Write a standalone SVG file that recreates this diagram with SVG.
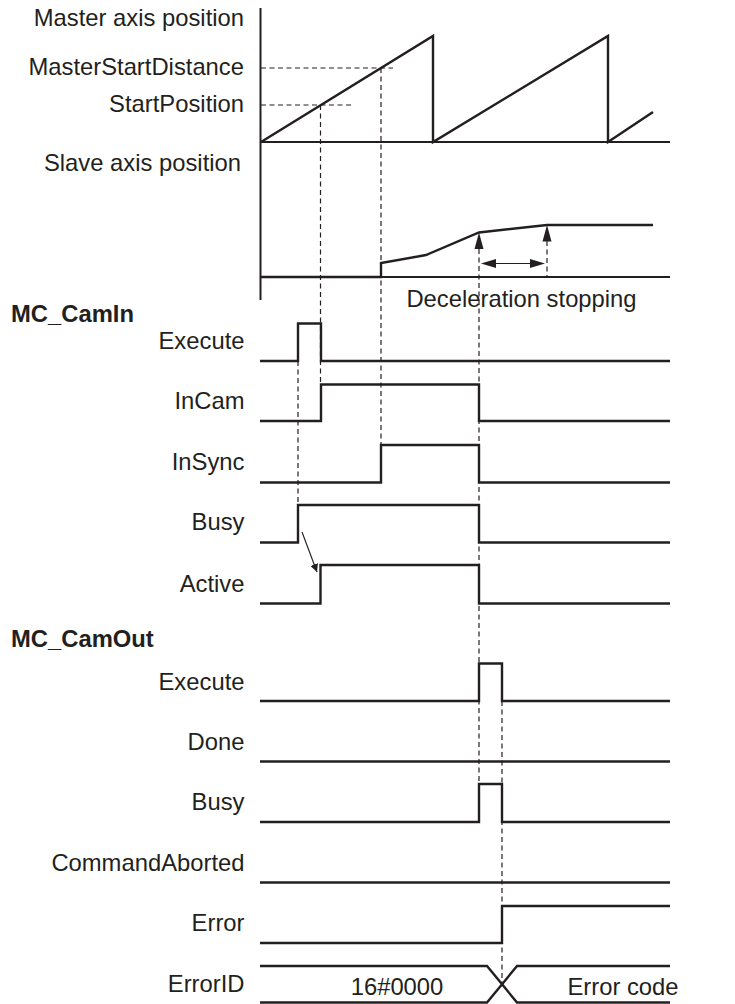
<svg xmlns="http://www.w3.org/2000/svg" width="735" height="1004" viewBox="0 0 735 1004">
<style>
text{font-family:"Liberation Sans",Arial,Helvetica,sans-serif;font-size:23.8px;fill:#231f20}
.lbl{text-anchor:end}
.b{font-weight:bold;text-anchor:start}
.sig{fill:none;stroke:#231f20;stroke-width:2.4;stroke-linejoin:miter}
.ax{fill:none;stroke:#231f20;stroke-width:2}
.dash{fill:none;stroke:#231f20;stroke-width:1.2;stroke-dasharray:5 3.5}
.thin{fill:none;stroke:#231f20;stroke-width:1.2}
.head{fill:#231f20}
</style>
<defs>
<marker id="ah" viewBox="0 0 10 10" refX="10" refY="5" markerWidth="8" markerHeight="8" markerUnits="userSpaceOnUse" orient="auto">
<path d="M0,0 L10,5 L0,10 z" fill="#231f20"/>
</marker>
</defs>
<rect width="735" height="1004" fill="#fff"/>

<g id="axes">
<text class="lbl" x="244" y="26">Master axis position</text>
<text class="lbl" x="244" y="75">MasterStartDistance</text>
<text class="lbl" x="244" y="112">StartPosition</text>
<text class="lbl" x="241" y="171">Slave axis position</text>
<line class="ax" x1="260.5" y1="8" x2="260.5" y2="300"/>
<line class="ax" x1="260" y1="142" x2="670" y2="142"/>
<line class="ax" x1="260" y1="277" x2="670" y2="277"/>
</g>

<g id="master-position">
<polyline class="sig" stroke-width="2.7" points="261,142 433,36 433,142 608,36 608,142 653,112"/>
</g>

<g id="slave-position">
<polyline class="sig" stroke-width="2.7" points="261,277 381,277 381,263 426,255 479,232.5 547,225 653,225"/>
</g>

<g id="deceleration">
<text x="521.5" y="307" text-anchor="middle">Deceleration stopping</text>
</g>

<g id="camin-title"><text class="b" x="11" y="322">MC_CamIn</text></g>

<g id="camin-execute">
<text class="lbl" x="244.5" y="349">Execute</text>
<polyline class="sig" points="260,361 298,361 298,323.5 321,323.5 321,361 670,361"/>
</g>
<g id="camin-incam">
<text class="lbl" x="244.5" y="409">InCam</text>
<polyline class="sig" points="260,421 321,421 321,384.5 479,384.5 479,421 670,421"/>
</g>
<g id="camin-insync">
<text class="lbl" x="244.5" y="470">InSync</text>
<polyline class="sig" points="260,482.5 381,482.5 381,445 479,445 479,482.5 670,482.5"/>
</g>
<g id="camin-busy">
<text class="lbl" x="244.5" y="530">Busy</text>
<polyline class="sig" points="260,542.5 298,542.5 298,505 479,505 479,542.5 670,542.5"/>
</g>
<g id="camin-active">
<text class="lbl" x="244.5" y="591.5">Active</text>
<polyline class="sig" points="260,603.5 320.5,603.5 320.5,565 479,565 479,603.5 670,603.5"/>
</g>

<g id="camout-title"><text class="b" x="11" y="647">MC_CamOut</text></g>

<g id="camout-execute">
<text class="lbl" x="244.5" y="689.5">Execute</text>
<polyline class="sig" points="260,701 479,701 479,663.5 502,663.5 502,701 670,701"/>
</g>
<g id="camout-done">
<text class="lbl" x="244.5" y="750">Done</text>
<line class="sig" x1="260" y1="761.5" x2="670" y2="761.5"/>
</g>
<g id="camout-busy">
<text class="lbl" x="244.5" y="810">Busy</text>
<polyline class="sig" points="260,822 479,822 479,784 502,784 502,822 670,822"/>
</g>
<g id="camout-commandaborted">
<text class="lbl" x="244.5" y="871">CommandAborted</text>
<line class="sig" x1="260" y1="882.5" x2="670" y2="882.5"/>
</g>
<g id="camout-error">
<text class="lbl" x="244.5" y="931">Error</text>
<polyline class="sig" points="260,943 502,943 502,906 670,906"/>
</g>
<g id="camout-errorid">
<text class="lbl" x="244.5" y="992">ErrorID</text>
<polyline class="sig" points="260,966 487,966 517,1002.5 670,1002.5"/>
<polyline class="sig" points="260,1002.5 487,1002.5 517,966 670,966"/>
<text x="397" y="995" text-anchor="middle" font-size="23.2">16#0000</text>
<text x="623" y="995" text-anchor="middle" font-size="23.2">Error code</text>
</g>

<g id="connectors">
<line class="dash" x1="261" y1="68" x2="393" y2="68"/>
<line class="dash" x1="261" y1="105" x2="351" y2="105"/>
<line class="dash" x1="320.5" y1="105" x2="320.5" y2="384"/>
<line class="dash" x1="381" y1="68" x2="381" y2="445"/>
<line class="dash" x1="298" y1="361" x2="298" y2="505"/>
<line class="dash" x1="479" y1="249" x2="479" y2="784"/>
<line class="dash" x1="547" y1="241" x2="547" y2="277"/>
<line class="dash" x1="502" y1="701" x2="502" y2="985"/>
<path class="head" d="M479,232.5 L474.5,249 L483.5,249 z"/>
<path class="head" d="M547,225 L542.5,241.5 L551.5,241.5 z"/>
<line class="thin" stroke-width="1.6" x1="493" y1="263.5" x2="533" y2="263.5"/>
<path class="head" d="M481,263.5 L496,259 L496,268 z"/>
<path class="head" d="M545,263.5 L530,259 L530,268 z"/>
<line class="thin" x1="302" y1="532" x2="317" y2="572" marker-end="url(#ah)"/>
</g>
</svg>
